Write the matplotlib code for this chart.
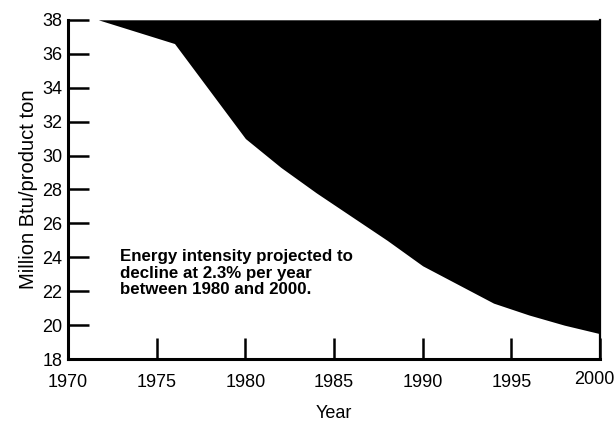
import matplotlib.pyplot as plt
from matplotlib.transforms import ScaledTranslation

plt.rcParams['font.family'] = ['Liberation Sans', 'DejaVu Sans']

# energy intensity, million Btu per product ton
years = [1970, 1971.7, 1976, 1980, 1982, 1984, 1986, 1988, 1990, 1992, 1994, 1996, 1998, 2000]
intensity = [38.0, 38.0, 36.6, 31.0, 29.3, 27.8, 26.4, 25.0, 23.5, 22.4, 21.3, 20.6, 20.0, 19.5]

x_ticks = [1970, 1975, 1980, 1985, 1990, 1995, 2000]
y_ticks = [18, 20, 22, 24, 26, 28, 30, 32, 34, 36, 38]

fig = plt.figure(figsize=(6.14, 4.21), dpi=100)
ax = fig.add_axes([0.111, 0.147, 0.866, 0.806])

# black area above the curve
ax.fill_between(years, intensity, 38, color='black', linewidth=0)

ax.set_xlim(1970, 2000)
ax.set_ylim(18, 38)
ax.set_xticks(x_ticks)
ax.set_yticks(y_ticks)
ax.tick_params(axis='both', direction='in', length=15, width=1.8,
               labelsize=13, color='black')
ax.tick_params(axis='x', pad=11)
ax.tick_params(axis='y', pad=4)

# last year label sits inside the figure edge
last = ax.get_xticklabels()[-1]
last.set_transform(last.get_transform() + ScaledTranslation(-0.06, 0.03, fig.dpi_scale_trans))

ax.spines['top'].set_visible(False)
ax.spines['right'].set_linewidth(1.6)
for side in ['left', 'bottom']:
    ax.spines[side].set_linewidth(2.2)

ax.set_xlabel('Year', fontsize=13, labelpad=10)
ax.set_ylabel('Million Btu/product ton', fontsize=14.5, labelpad=3)

ax.text(1972.9, 23.05,
        'Energy intensity projected to\ndecline at 2.3% per year\nbetween 1980 and 2000.',
        fontsize=12.2, fontweight='bold', va='center', ha='left', linespacing=1.12)

fig.savefig('out.png', dpi=100)
